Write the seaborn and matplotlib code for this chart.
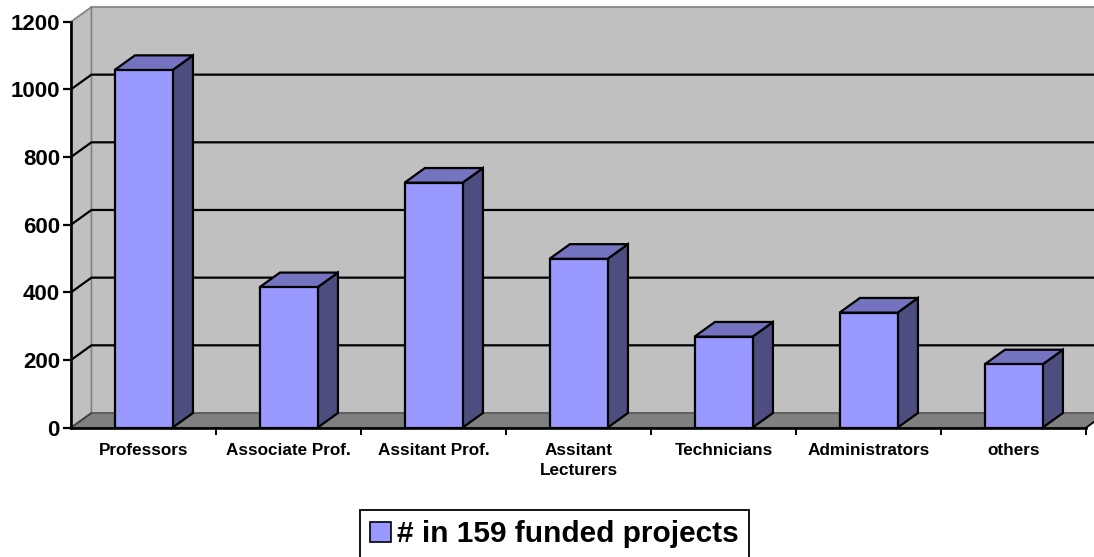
import matplotlib
matplotlib.use("Agg")
import matplotlib.pyplot as plt
from matplotlib.patches import Polygon, Patch
import pandas as pd
import seaborn as sns

# --- data ---
categories = ["Professors", "Associate Prof.", "Assitant Prof.", "Assitant\nLecturers",
              "Technicians", "Administrators", "others"]
counts = [1057, 415, 724, 499, 269, 340, 187]
series_name = "# in 159 funded projects"
y_ticks = [0, 200, 400, 600, 800, 1000, 1200]

FRONT = "#9999FF"
SIDE = "#4D4D80"
TOP = "#7373BF"
WALL = "#C0C0C0"
FLOOR = "#808080"

sns.set_style("white")
plt.rcParams["font.family"] = ["Liberation Sans", "DejaVu Sans"]
plt.rcParams["font.weight"] = "bold"
plt.rcParams["text.color"] = "black"
plt.rcParams["xtick.color"] = "black"
plt.rcParams["ytick.color"] = "black"

df = pd.DataFrame({"category": categories, "count": counts, "series": series_name})

fig = plt.figure(figsize=(10.94, 5.57), dpi=100)
ax = fig.add_axes([71 / 1094, 1 - 427.7 / 557, 1015 / 1094, 406 / 557])

sns.barplot(data=df, x="category", y="count", hue="series", palette=[FRONT],
            width=0.4, edgecolor="black", linewidth=1.6, saturation=1,
            legend=False, ax=ax, zorder=5)
bars = list(ax.patches)

ax.set_xlim(-0.5, len(categories) - 0.5)
ax.set_ylim(0, 1200)

# depth of the pseudo-3D walls (category units / value units)
dx, dy = 0.141, 43.5
x0, x1 = -0.5, len(categories) - 0.5
ymax = y_ticks[-1]

# back wall, side wall and floor
ax.add_patch(Polygon([(x0 + dx, dy), (x1 + dx, dy), (x1 + dx, ymax + dy), (x0 + dx, ymax + dy)],
                     closed=True, facecolor=WALL, edgecolor=FLOOR, lw=1.2, clip_on=False, zorder=1))
ax.add_patch(Polygon([(x0, 0), (x0 + dx, dy), (x0 + dx, ymax + dy), (x0, ymax)],
                     closed=True, facecolor=WALL, edgecolor=FLOOR, lw=1.2, clip_on=False, zorder=1))
ax.add_patch(Polygon([(x0, 0), (x1, 0), (x1 + dx, dy), (x0 + dx, dy)],
                     closed=True, facecolor=FLOOR, edgecolor="#5a5a5a", lw=1.2, clip_on=False, zorder=2))

# gridlines on the side and back wall
for v in y_ticks[1:-1]:
    ax.plot([x0, x0 + dx, x1 + dx], [v, v + dy, v + dy], color="black", lw=1.6,
            clip_on=False, zorder=3, solid_capstyle="butt")
ax.plot([x0, x0 + dx], [0, dy], color="#404040", lw=1.2, clip_on=False, zorder=3)
ax.plot([x1, x1 + dx], [0, dy], color="black", lw=1.2, clip_on=False, zorder=3)

# side and top faces of each column
for p in bars:
    bx, bw, bh = p.get_x(), p.get_width(), p.get_height()
    if bh <= 0:
        continue
    ax.add_patch(Polygon([(bx + bw, 0), (bx + bw + dx, dy), (bx + bw + dx, bh + dy), (bx + bw, bh)],
                         closed=True, facecolor=SIDE, edgecolor="black", lw=1.6, zorder=4,
                         clip_on=False))
    ax.add_patch(Polygon([(bx, bh), (bx + dx, bh + dy), (bx + bw + dx, bh + dy), (bx + bw, bh)],
                         closed=True, facecolor=TOP, edgecolor="black", lw=1.6, zorder=4,
                         clip_on=False, joinstyle="miter"))

# axes lines and ticks
for s in ["top", "right"]:
    ax.spines[s].set_visible(False)
for s in ["left", "bottom"]:
    ax.spines[s].set_visible(True)
    ax.spines[s].set_color("black")
    ax.spines[s].set_linewidth(1.9)
    ax.spines[s].set_zorder(6)

ax.set_yticks(y_ticks)
ax.set_yticklabels([str(v) for v in y_ticks])
ax.tick_params(axis="y", direction="out", length=6, width=1.6, pad=2, labelsize=16, left=True,
               labelcolor="black")
ax.set_xticks(range(len(categories)))
ax.set_xticklabels(categories, linespacing=1.45)
ax.set_xticks([i + 0.5 for i in range(len(categories))], minor=True)
ax.tick_params(axis="x", which="major", length=0, pad=11, labelsize=12.3, labelcolor="black")
ax.tick_params(axis="x", which="minor", direction="out", length=5, width=1.4, bottom=True)
for lab in ax.get_xticklabels() + ax.get_yticklabels():
    lab.set_fontweight("bold")
ax.set_xlabel("")
ax.set_ylabel("")
ax.set_facecolor("none")
ax.grid(False)

handle = Patch(facecolor=FRONT, edgecolor="black", linewidth=1.2)
leg = fig.legend([handle], [series_name], loc="upper center", bbox_to_anchor=(0.507, 1 - 510 / 557),
                 frameon=True, fancybox=False, framealpha=1, edgecolor="black",
                 prop={"size": 21.5, "weight": "bold"}, handlelength=0.7, handleheight=0.7,
                 handletextpad=0.2, borderpad=0.35, borderaxespad=0)
leg.get_frame().set_linewidth(1.3)
for t in leg.get_texts():
    t.set_color("black")

fig.savefig("out.png", dpi=100, facecolor="white")
